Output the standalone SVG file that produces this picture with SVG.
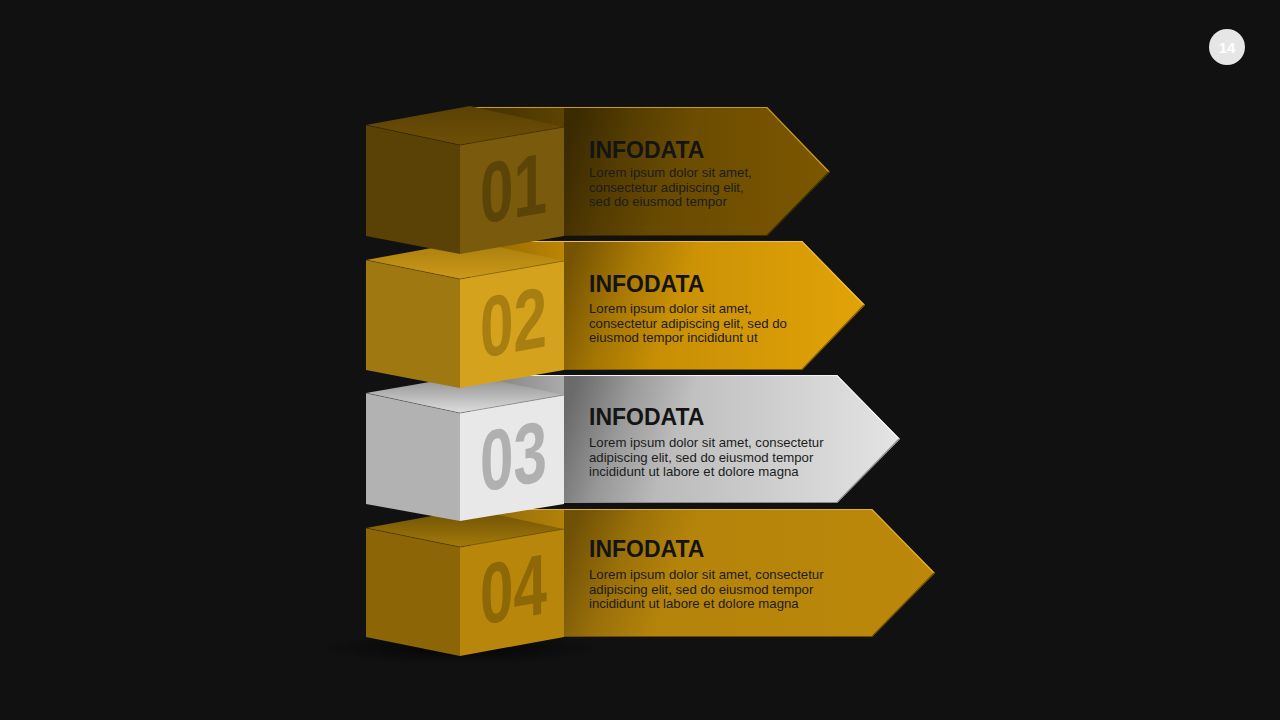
<svg xmlns="http://www.w3.org/2000/svg" width="1280" height="720" viewBox="0 0 1280 720">
<defs>
<linearGradient id="a1" x1="0" y1="0" x2="1" y2="0"><stop offset="0" stop-color="#523c02"/><stop offset="1" stop-color="#7c5700"/></linearGradient>
<linearGradient id="a2" x1="0" y1="0" x2="1" y2="0"><stop offset="0" stop-color="#b07d02"/><stop offset="1" stop-color="#e2a308"/></linearGradient>
<linearGradient id="a3" x1="0" y1="0" x2="1" y2="0"><stop offset="0" stop-color="#9a9a9a"/><stop offset="1" stop-color="#e4e4e4"/></linearGradient>
<linearGradient id="a4" x1="0" y1="0" x2="1" y2="0"><stop offset="0" stop-color="#b0800a"/><stop offset="1" stop-color="#bb880a"/></linearGradient>
<linearGradient id="t1" x1="0" y1="0" x2="0" y2="1"><stop offset="0" stop-color="#5a4104"/><stop offset="1" stop-color="#6e5006"/></linearGradient>
<linearGradient id="t2" x1="0" y1="0" x2="0" y2="1"><stop offset="0" stop-color="#a87c0c"/><stop offset="1" stop-color="#cc9a1a"/></linearGradient>
<linearGradient id="t3" x1="0" y1="0" x2="0" y2="1"><stop offset="0" stop-color="#8a8a8a"/><stop offset="1" stop-color="#dedede"/></linearGradient>
<linearGradient id="t4" x1="0" y1="0" x2="0" y2="1"><stop offset="0" stop-color="#6e4f05"/><stop offset="1" stop-color="#a27a0a"/></linearGradient>
<linearGradient id="sh" x1="0" y1="0.3" x2="1" y2="0.6"><stop offset="0" stop-color="#000" stop-opacity="0.38"/><stop offset="0.35" stop-color="#000" stop-opacity="0.14"/><stop offset="0.7" stop-color="#000" stop-opacity="0"/></linearGradient>
<linearGradient id="shTop" x1="0" y1="0" x2="1" y2="0"><stop offset="0" stop-color="#000" stop-opacity="0.35"/><stop offset="1" stop-color="#000" stop-opacity="0"/></linearGradient>
<radialGradient id="floor" cx="0.5" cy="0.5" r="0.5"><stop offset="0" stop-color="#000" stop-opacity="0.8"/><stop offset="1" stop-color="#000" stop-opacity="0"/></radialGradient>
<style>
.title{font-family:"Liberation Sans",Arial,sans-serif;font-weight:bold;font-size:23px;fill:#141414}
.body{font-family:"Liberation Sans",Arial,sans-serif;font-size:13.2px;fill:#1c1c1c}
.num{font-family:"Liberation Sans",Arial,sans-serif;font-weight:bold;font-size:86px}
.edge{stroke:#000;stroke-opacity:0.35;stroke-width:0.8;fill:none}
.hl{stroke-width:1.2;fill:none}
</style>
</defs>
<rect width="1280" height="720" fill="#111111"/>

<ellipse cx="460" cy="648" rx="140" ry="16" fill="url(#floor)"/>

<g id="row-4">
<polygon points="470,509 872,509 935,573 872,637 470,637" fill="url(#a4)"/>
<polyline class="hl" points="470,509.5 872,509.5 934,573" stroke="#e0b030"/>
<polyline class="hl" points="934,573 872,636.5 564,636.5" stroke="#6a4a04"/>
<rect x="564" y="510" width="160" height="126" fill="url(#sh)"/>
<polygon points="470,510 564,529 564,510" fill="url(#shTop)" opacity="0.6"/>
<polygon points="366,528 460,547 460,656 366,637" fill="#8c6606"/>
<polygon points="460,547 564,529 564,637 460,656" fill="#b8860a"/>
<polygon points="366,528 470,509 564,529 460,547" fill="url(#t4)"/>
<polyline class="edge" points="366,528 460,547 564,529"/>
<text class="num" fill="#8e6806" transform="translate(480,625) skewY(-10) scale(0.7,1)">04</text>
<text class="title" x="589" y="557">INFODATA</text>
<text class="body" x="589" y="579">Lorem ipsum dolor  sit amet, consectetur</text>
<text class="body" x="589" y="593.5">adipiscing elit, sed do eiusmod tempor</text>
<text class="body" x="589" y="608">incididunt ut labore  et dolore  magna</text>
</g>

<g id="row-3">
<polygon points="470,375 837,375 900,439 837,503 470,503" fill="url(#a3)"/>
<polyline class="hl" points="470,375.5 837,375.5 899,439" stroke="#f4f4f4"/>
<polyline class="hl" points="899,439 837,502.5 564,502.5" stroke="#8a8a8a"/>
<rect x="564" y="376" width="160" height="126" fill="url(#sh)"/>
<polygon points="470,376 564,395 564,376" fill="url(#shTop)" opacity="0.6"/>
<polygon points="366,393 460,413 460,521 366,504" fill="#b2b2b2"/>
<polygon points="460,413 564,395 564,504 460,521" fill="#e8e8e8"/>
<polygon points="366,393 470,375 564,395 460,413" fill="url(#t3)"/>
<polyline class="edge" points="366,393 460,413 564,395"/>
<text class="num" fill="#b0b0b0" transform="translate(480,492) skewY(-10) scale(0.7,1)">03</text>
<text class="title" x="589" y="425">INFODATA</text>
<text class="body" x="589" y="447">Lorem ipsum dolor  sit amet, consectetur</text>
<text class="body" x="589" y="461.5">adipiscing elit, sed do eiusmod tempor</text>
<text class="body" x="589" y="476">incididunt ut labore  et dolore  magna</text>
</g>

<g id="row-2">
<polygon points="470,241 802,241 865,305 802,370 470,370" fill="url(#a2)"/>
<polyline class="hl" points="470,241.5 802,241.5 864,305" stroke="#f0c040"/>
<polyline class="hl" points="864,305 802,369.5 564,369.5" stroke="#7a5804"/>
<rect x="564" y="242" width="160" height="127" fill="url(#sh)"/>
<polygon points="470,242 564,261 564,242" fill="url(#shTop)" opacity="0.6"/>
<polygon points="366,260 460,279 460,388 366,370" fill="#a07812"/>
<polygon points="460,279 564,261 564,370 460,388" fill="#d4a21c"/>
<polygon points="366,260 470,241 564,261 460,279" fill="url(#t2)"/>
<polyline class="edge" points="366,260 460,279 564,261"/>
<text class="num" fill="#a87e12" transform="translate(480,358) skewY(-10) scale(0.7,1)">02</text>
<text class="title" x="589" y="292">INFODATA</text>
<text class="body" x="589" y="313">Lorem ipsum dolor  sit amet,</text>
<text class="body" x="589" y="327.5">consectetur adipiscing elit, sed do</text>
<text class="body" x="589" y="342">eiusmod tempor incididunt ut</text>
</g>

<g id="row-1">
<polygon points="470,107 767,107 830,172 767,236 470,236" fill="url(#a1)"/>
<polyline class="hl" points="470,107.5 767,107.5 829,172" stroke="#c89a20"/>
<polyline class="hl" points="829,172 767,235.5 564,235.5" stroke="#3a2a02"/>
<rect x="564" y="108" width="160" height="127" fill="url(#sh)"/>
<polygon points="470,108 564,127 564,108" fill="url(#shTop)" opacity="0.6"/>
<polygon points="366,125 460,145 460,254 366,236" fill="#5a4206"/>
<polygon points="460,145 564,127 564,236 460,254" fill="#7a5a0c"/>
<polygon points="366,125 470,106 564,127 460,145" fill="url(#t1)"/>
<polyline class="edge" points="366,125 460,145 564,127"/>
<text class="num" fill="#5c4308" transform="translate(480,224) skewY(-10) scale(0.7,1)">01</text>
<text class="title" x="589" y="158">INFODATA</text>
<text class="body" x="589" y="177">Lorem ipsum dolor  sit amet,</text>
<text class="body" x="589" y="191.5">consectetur adipiscing elit,</text>
<text class="body" x="589" y="206">sed do eiusmod tempor</text>
</g>

<g id="page-number">
<circle cx="1227" cy="47" r="18" fill="#e6e6e6"/>
<text x="1227" y="53" text-anchor="middle" font-family="Liberation Sans, Arial, sans-serif" font-weight="bold" font-size="15" fill="#ffffff">14</text>
</g>
</svg>
